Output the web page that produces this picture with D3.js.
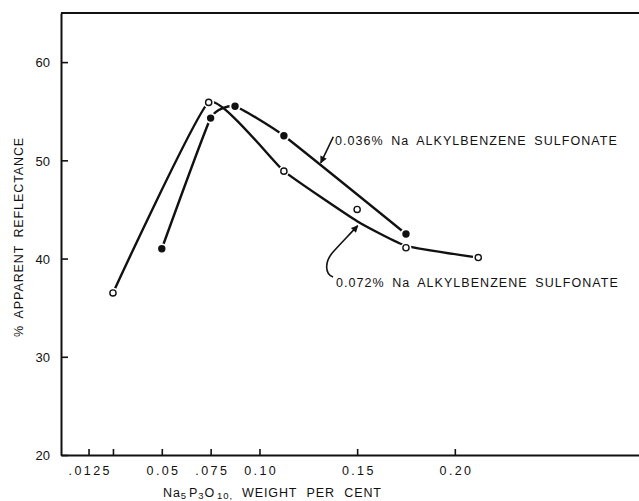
<!DOCTYPE html>
<html>
<head>
<meta charset="utf-8">
<script src="https://cdn.jsdelivr.net/npm/d3@7"></script>
<style>
  html, body { margin: 0; padding: 0; background: #fff; }
  svg { display: block; }
  text { font-family: "Liberation Sans", Arial, sans-serif; fill: #111; }
</style>
</head>
<body>
<svg id="chart" width="639" height="501"></svg>
<script>
// ---- data ----
const xTickValues = [0.0125, 0.025, 0.05, 0.075, 0.10, 0.15, 0.20];
const xTickLabels = [".0125", "", "0.05", ".075", "0.10", "0.15", "0.20"];
const yTickValues = [20, 30, 40, 50, 60];
const yTickLabels = ["20", "30", "40", "50", "60"];

// 0.072% Na alkylbenzene sulfonate (open circles)
const openX = [0.025, 0.074, 0.1125, 0.15, 0.175, 0.212];
const openY = [36.5, 55.9, 48.9, 45.0, 41.1, 40.1];
// the hand-drawn smoothing curve for this series, read at the same x values
const openCurveY = [36.5, 55.9, 48.9, 43.8, 41.3, 40.1];

// 0.036% Na alkylbenzene sulfonate (filled circles)
const filledX = [0.05, 0.075, 0.0875, 0.1125, 0.175];
const filledY = [41.0, 54.3, 55.5, 52.5, 42.5];

const label036 = "0.036% Na ALKYLBENZENE SULFONATE";
const label072 = "0.072% Na ALKYLBENZENE SULFONATE";
const yTitle = "% APPARENT REFLECTANCE";

// ---- layout ----
const svg = d3.select("#chart");
const plotLeft = 61, plotRight = 640, plotTop = 13, plotBottom = 455;

const x = d3.scaleLinear().domain([-0.0016, 0.2948]).range([plotLeft, plotRight]);
const y = d3.scaleLinear().domain([20, 65]).range([plotBottom, plotTop]);

// frame: top line
svg.append("line")
  .attr("x1", plotLeft).attr("x2", plotRight)
  .attr("y1", y(65)).attr("y2", y(65))
  .attr("stroke", "#111").attr("stroke-width", 2);

// y axis
const yAxis = d3.axisLeft(y)
  .tickValues(yTickValues)
  .tickFormat((d, i) => yTickLabels[i])
  .tickSizeInner(-7).tickSizeOuter(0).tickPadding(11);
const gy = svg.append("g").attr("transform", `translate(${plotLeft},0)`).call(yAxis);
gy.select(".domain").attr("stroke", "#111").attr("stroke-width", 2);
gy.selectAll(".tick line").attr("stroke", "#111").attr("stroke-width", 1.6);
gy.selectAll(".tick text")
  .attr("font-size", 13).attr("font-family", "Liberation Sans, Arial, sans-serif")
  .attr("fill", "#111").attr("dy", "0.36em");

// x axis
const xAxis = d3.axisBottom(x)
  .tickValues(xTickValues)
  .tickFormat((d, i) => xTickLabels[i])
  .tickSizeInner(-6).tickSizeOuter(0).tickPadding(11);
const gx = svg.append("g").attr("transform", `translate(0,${plotBottom})`).call(xAxis);
gx.select(".domain").attr("stroke", "#111").attr("stroke-width", 2);
gx.selectAll(".tick line").attr("stroke", "#111").attr("stroke-width", 1.6);
gx.selectAll(".tick text")
  .attr("font-size", 12.5).attr("font-family", "Liberation Sans, Arial, sans-serif")
  .attr("fill", "#111").attr("letter-spacing", 2.4)
  .attr("dx", 1.2);

// y title
svg.append("text")
  .attr("transform", `translate(23,237) rotate(-90)`)
  .attr("text-anchor", "middle")
  .attr("font-size", 12.5)
  .attr("letter-spacing", 0.9)
  .attr("word-spacing", 3)
  .text(yTitle);

// x title with subscripts
const xt = svg.append("text")
  .attr("x", 163).attr("y", 496.5)
  .attr("font-size", 12.5).attr("letter-spacing", 0.9);
xt.append("tspan").text("Na");
xt.append("tspan").attr("font-size", 9.5).attr("dy", 2.5).text("5");
xt.append("tspan").attr("dy", -2.5).attr("dx", 2).text("P");
xt.append("tspan").attr("font-size", 9.5).attr("dy", 2.5).text("3");
xt.append("tspan").attr("dy", -2.5).text("O");
xt.append("tspan").attr("font-size", 9.5).attr("dy", 2.5).attr("dx", 2).text("10,");
xt.append("tspan").attr("dy", -2.5).attr("dx", 9).attr("word-spacing", 5).text("WEIGHT PER CENT");

// ---- curves ----
const line = d3.line()
  .x(d => x(d[0])).y(d => y(d[1]))
  .curve(d3.curveCardinal.tension(0.6));

const openCurve = openX.map((v, i) => [v, openCurveY[i]]);
const filledCurve = filledX.map((v, i) => [v, filledY[i]]);

svg.append("path").datum(openCurve)
  .attr("d", line).attr("fill", "none")
  .attr("stroke", "#111").attr("stroke-width", 2.4).attr("stroke-linecap", "round");
svg.append("path").datum(filledCurve)
  .attr("d", line).attr("fill", "none")
  .attr("stroke", "#111").attr("stroke-width", 2.4).attr("stroke-linecap", "round");

// ---- markers (white halo gives the small gap seen at each point) ----
const openPts = openX.map((v, i) => [v, openY[i]]);
const filledPts = filledX.map((v, i) => [v, filledY[i]]);

svg.append("g").selectAll("circle").data(filledPts).join("circle")
  .attr("cx", d => x(d[0])).attr("cy", d => y(d[1])).attr("r", 5.6).attr("fill", "#fff");
svg.append("g").selectAll("circle").data(openPts).join("circle")
  .attr("cx", d => x(d[0])).attr("cy", d => y(d[1])).attr("r", 5.4).attr("fill", "#fff");

svg.append("g").selectAll("circle").data(filledPts).join("circle")
  .attr("cx", d => x(d[0])).attr("cy", d => y(d[1])).attr("r", 3.7).attr("fill", "#111");
svg.append("g").selectAll("circle").data(openPts).join("circle")
  .attr("cx", d => x(d[0])).attr("cy", d => y(d[1])).attr("r", 3.1)
  .attr("fill", "#fff").attr("stroke", "#111").attr("stroke-width", 1.4);

// ---- annotations ----
const defs = svg.append("defs");
defs.append("marker").attr("id", "ah")
  .attr("viewBox", "0 0 10 10").attr("refX", 9).attr("refY", 5)
  .attr("markerUnits", "userSpaceOnUse")
  .attr("markerWidth", 9).attr("markerHeight", 7)
  .attr("orient", "auto")
  .append("path").attr("d", "M0,0 L10,5 L0,10 Z").attr("fill", "#111");

// arrow to 0.036% curve (data units)
svg.append("line")
  .attr("x1", x(0.1378)).attr("y1", y(52.4))
  .attr("x2", x(0.1314)).attr("y2", y(49.75))
  .attr("stroke", "#111").attr("stroke-width", 1.6)
  .attr("marker-end", "url(#ah)");

svg.append("text")
  .attr("x", x(0.1387)).attr("y", y(51.55))
  .attr("font-size", 12.5).attr("letter-spacing", 1.05).attr("word-spacing", 3)
  .text(label036);

// hooked arrow to 0.072% curve (data units)
const hook = d3.path();
hook.moveTo(x(0.13766), y(38.12));
hook.bezierCurveTo(x(0.13357), y(38.42), x(0.13306), y(39.64), x(0.13766), y(40.66));
hook.bezierCurveTo(x(0.14125), y(41.48), x(0.14535), y(42.29), x(0.1503), y(43.35));
svg.append("path").attr("d", hook.toString())
  .attr("fill", "none").attr("stroke", "#111").attr("stroke-width", 1.6)
  .attr("marker-end", "url(#ah)");

svg.append("text")
  .attr("x", x(0.1392)).attr("y", y(37.13))
  .attr("font-size", 12.5).attr("letter-spacing", 1.05).attr("word-spacing", 3)
  .text(label072);
</script>
</body>
</html>
